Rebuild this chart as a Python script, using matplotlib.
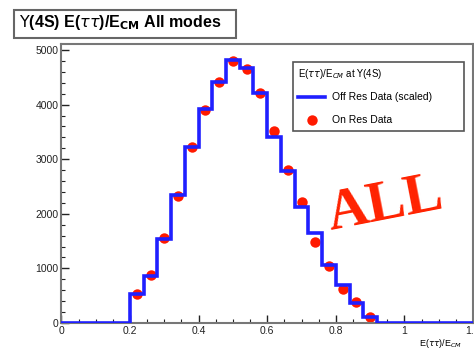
import numpy as np
import matplotlib.pyplot as plt
from matplotlib.patches import Rectangle
from matplotlib.lines import Line2D

# bin edges of E(tautau)/E_CM, width 0.04 from 0 to 1.2
bin_lo = 0.0
bin_hi = 1.2
bin_w = 0.04

# off resonance (scaled) histogram, non-empty bins 0.20 .. 0.92
off_res = [530, 865, 1540, 2345, 3220, 3920, 4420, 4815,
           4665, 4215, 3400, 2785, 2130, 1655, 1060, 695, 360, 105]
off_first_edge = 0.20

# on resonance data points, at the same bin centres
on_res = [530, 880, 1560, 2330, 3225, 3900, 4420, 4800,
          4650, 4210, 3520, 2800, 2220, 1490, 1050, 620, 380, 116]

plt.rcParams['font.family'] = ['Liberation Sans', 'DejaVu Sans']

fig = plt.figure(figsize=(4.74, 3.54), dpi=100)
W, H = 474, 354
x0, x1, ytop, ybot = 61.4, 473, 44, 323
ax = fig.add_axes([x0 / W, (H - ybot) / H, (x1 - x0) / W, (ybot - ytop) / H])

edges = np.round(np.arange(bin_lo, bin_hi + bin_w / 2, bin_w), 6)
counts = np.zeros(len(edges) - 1)
start = int(round((off_first_edge - bin_lo) / bin_w))
counts[start:start + len(off_res)] = off_res
centres = off_first_edge + bin_w * (np.arange(len(on_res)) + 0.5)

ax.stairs(counts, edges, color='#2020ff', linewidth=2.6, zorder=3)
ax.plot(centres, on_res, 'o', color='#ff1a00', markersize=7.5,
        markeredgewidth=0, zorder=2)

ax.set_xlim(0, 1.2)
ax.set_ylim(0, 5110)
ax.set_xticks([0, 0.2, 0.4, 0.6, 0.8, 1, 1.2])
ax.set_xticklabels(['0', '0.2', '0.4', '0.6', '0.8', '1', '1.2'])
ax.set_xticks(np.arange(0, 1.21, 0.05), minor=True)
ax.set_yticks([0, 1000, 2000, 3000, 4000, 5000])
ax.set_yticks(np.arange(0, 5100, 200), minor=True)
ax.tick_params(which='both', direction='in', labelsize=7.5, colors='#222222', pad=2)
ax.tick_params(which='major', length=6, width=1)
ax.tick_params(which='minor', length=3, width=0.8)
for s in ax.spines.values():
    s.set_color('#777777')
    s.set_linewidth(1.5)

# legend
handles = [Line2D([], [], color='#2020ff', linewidth=2.6),
           Line2D([], [], marker='o', linestyle='none', color='#ff1a00',
                  markersize=7.5, markeredgewidth=0)]
leg = ax.legend(handles, ['Off Res Data (scaled)', 'On Res Data'],
                title=r'E($\tau\tau$)/E$_{CM}$ at $\Upsilon$(4S)',
                loc='upper left', bbox_to_anchor=(0.563, 0.685, 0.414, 0.25),
                mode='expand', fontsize=7.5, title_fontsize=7, fancybox=False,
                edgecolor='#555555', framealpha=1, borderpad=0.5,
                handlelength=2.6, handletextpad=0.6, labelspacing=1.25,
                alignment='left', borderaxespad=0)
leg.get_frame().set_linewidth(1.2)
leg._legend_box.sep = 8

# ALL stamp
ax.text(0.786, 0.423, 'ALL', transform=ax.transAxes, rotation=11,
        fontsize=41, fontweight='bold', color='#ff2200',
        family='Liberation Serif', ha='center', va='center')

# title box
fig.patches.append(Rectangle((14 / W, 1 - 38 / H), 222 / W, 28 / H,
                             transform=fig.transFigure, facecolor='white',
                             edgecolor='#666666', linewidth=1.5))
fig.text(120 / W, 1 - 23 / H,
         r'$\Upsilon$(4S) E($\tau\tau$)/E$_{\mathbf{CM}}$ All modes',
         ha='center', va='center', fontsize=11.5, fontweight='bold')

fig.text(462 / W, 1 - 344 / H, r'E($\tau\tau$)/E$_{CM}$',
         ha='right', va='center', fontsize=6.5)

fig.savefig('out.png', dpi=100)
